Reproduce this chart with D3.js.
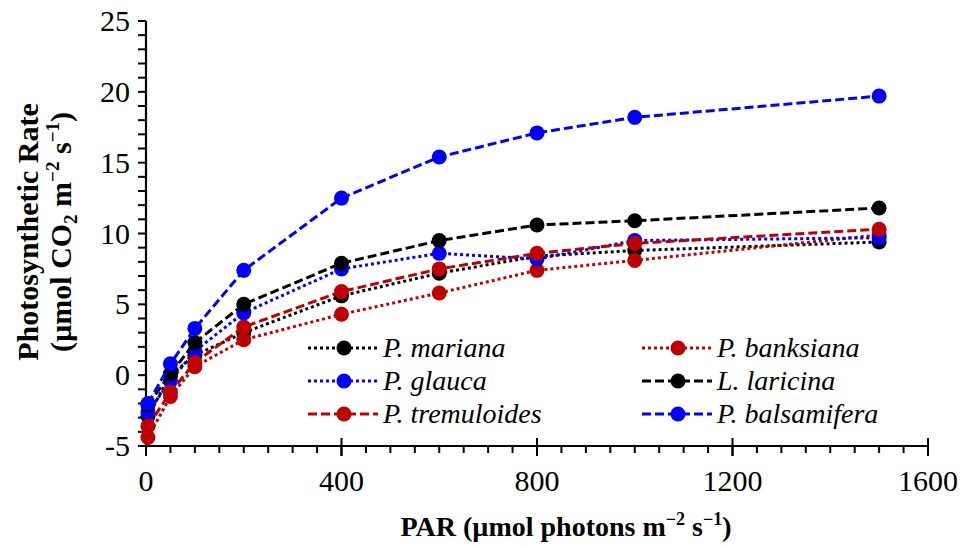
<!DOCTYPE html>
<html><head><meta charset="utf-8">
<script src="https://cdn.jsdelivr.net/npm/d3@7"></script>
<style>body{margin:0;background:#fff} svg{display:block}</style>
</head><body>
<svg id="c" width="964" height="546"></svg>
<script>
// ---- data ----
const par = [4, 50, 100, 200, 400, 600, 800, 1000, 1500];
const mariana     = [-2.9, 0.0, 1.4, 3.0, 5.6, 7.2, 8.4, 8.8, 9.4];
const banksiana   = [-4.4, -1.5, 0.6, 2.5, 4.3, 5.8, 7.4, 8.1, 9.9];
const glauca      = [-2.6, -0.4, 1.7, 4.4, 7.5, 8.6, 8.2, 9.5, 9.7];
const laricina    = [-2.1, 0.1, 2.3, 5.0, 7.9, 9.5, 10.6, 10.9, 11.8];
const tremuloides = [-3.6, -1.2, 0.9, 3.4, 5.9, 7.5, 8.6, 9.3, 10.3];
const balsamifera = [-2.0, 0.8, 3.3, 7.4, 12.5, 15.4, 17.1, 18.2, 19.7];
const seriesNames = ["P. mariana", "P. banksiana", "P. glauca", "L. laricina", "P. tremuloides", "P. balsamifera"];
const xTickVals = [0, 400, 800, 1200, 1600];
const yTickVals = [-5, 0, 5, 10, 15, 20, 25];

const series = [
  {name: seriesNames[0], values: mariana,     color: "#000000", dash: "dot"},
  {name: seriesNames[1], values: banksiana,   color: "#C00000", dash: "dot"},
  {name: seriesNames[2], values: glauca,      color: "#0000FF", dash: "dot"},
  {name: seriesNames[3], values: laricina,    color: "#000000", dash: "dash"},
  {name: seriesNames[4], values: tremuloides, color: "#C00000", dash: "dash"},
  {name: seriesNames[5], values: balsamifera, color: "#0000FF", dash: "dash"}
];
const dashArr = {dot: "3,3", dash: "9,4"};

// ---- layout ----
const svg = d3.select("#c");
const L = 146, R = 928, T = 21, B = 446;
const x = d3.scaleLinear().domain([0, 1600]).range([L, R]);
const y = d3.scaleLinear().domain([-5, 25]).range([B, T]);
const font = "'Liberation Serif', 'Times New Roman', serif";

// x ticks
const gx = svg.append("g");
gx.selectAll("line.mx").data(d3.range(0, 1601, 50)).join("line")
  .attr("x1", d => x(d)).attr("x2", d => x(d))
  .attr("y1", B).attr("y2", d => d % 400 === 0 ? B + 10 : B + 7)
  .attr("stroke", "#000").attr("stroke-width", 2);
gx.selectAll("line.Mx").data(xTickVals).join("line")
  .attr("x1", d => x(d)).attr("x2", d => x(d))
  .attr("y1", B - 8).attr("y2", B + 10)
  .attr("stroke", "#000").attr("stroke-width", 2);
gx.selectAll("text").data(xTickVals).join("text")
  .attr("x", d => x(d)).attr("y", B + 45)
  .attr("text-anchor", "middle").attr("font-family", font).attr("font-size", 30)
  .text(d => d);

// y ticks
const gy = svg.append("g");
gy.selectAll("line").data(d3.range(-5, 25.1, 1)).join("line")
  .attr("x1", L - 8).attr("x2", L)
  .attr("y1", d => y(d)).attr("y2", d => y(d))
  .attr("stroke", "#000").attr("stroke-width", 2);
gy.selectAll("text").data(yTickVals).join("text")
  .attr("x", L - 16).attr("y", d => y(d) + 10)
  .attr("text-anchor", "end").attr("font-family", font).attr("font-size", 30)
  .text(d => d);

svg.append("line").attr("x1", L).attr("x2", R).attr("y1", B).attr("y2", B)
  .attr("stroke", "#000").attr("stroke-width", 2.2);
svg.append("line").attr("x1", L).attr("x2", L).attr("y1", T).attr("y2", B)
  .attr("stroke", "#000").attr("stroke-width", 2.2);

// series
const line = d3.line().x((d, i) => x(par[i])).y(d => y(d));
series.forEach(s => {
  const g = svg.append("g");
  g.append("path").datum(s.values).attr("d", line)
    .attr("fill", "none").attr("stroke", s.color).attr("stroke-width", 3)
    .attr("stroke-dasharray", dashArr[s.dash]);
  g.selectAll("circle").data(s.values).join("circle")
    .attr("cx", (d, i) => x(par[i])).attr("cy", d => y(d)).attr("r", 7.5)
    .attr("fill", s.color);
});

// legend
const legPos = [[308, 348], [642, 348], [308, 381], [642, 381], [308, 414], [642, 414]];
series.forEach((s, i) => {
  const [lx, ly] = legPos[i];
  const g = svg.append("g");
  g.append("line").attr("x1", lx).attr("x2", lx + 70).attr("y1", ly).attr("y2", ly)
    .attr("stroke", s.color).attr("stroke-width", 3).attr("stroke-dasharray", dashArr[s.dash]);
  g.append("circle").attr("cx", lx + 36).attr("cy", ly).attr("r", 7.5).attr("fill", s.color);
  g.append("text").attr("x", lx + 75).attr("y", ly + 9)
    .attr("font-family", font).attr("font-size", 28).attr("font-style", "italic")
    .text(s.name);
});

// axis titles
const xt = svg.append("text").attr("x", 566).attr("y", 536)
  .attr("text-anchor", "middle").attr("font-family", font).attr("font-size", 28).attr("font-weight", "bold");
xt.append("tspan").text("PAR (µmol photons m");
xt.append("tspan").attr("font-size", 18).attr("dy", -11).text("−2");
xt.append("tspan").attr("dy", 11).text(" s");
xt.append("tspan").attr("font-size", 18).attr("dy", -11).text("−1");
xt.append("tspan").attr("dy", 11).text(")");

const yt = svg.append("g").attr("transform", "translate(38,232) rotate(-90)");
yt.append("text").attr("x", 0).attr("y", 0).attr("text-anchor", "middle")
  .attr("font-family", font).attr("font-size", 30).attr("font-weight", "bold")
  .text("Photosynthetic Rate");
const yt2 = yt.append("text").attr("x", 0).attr("y", 33).attr("text-anchor", "middle")
  .attr("font-family", font).attr("font-size", 30).attr("font-weight", "bold");
yt2.append("tspan").text("(µmol CO");
yt2.append("tspan").attr("font-size", 19).attr("dy", 6).text("2");
yt2.append("tspan").attr("dy", -6).text(" m");
yt2.append("tspan").attr("font-size", 19).attr("dy", -12).text("−2");
yt2.append("tspan").attr("dy", 12).text(" s");
yt2.append("tspan").attr("font-size", 19).attr("dy", -12).text("−1");
yt2.append("tspan").attr("dy", 12).text(")");
</script>
</body></html>
